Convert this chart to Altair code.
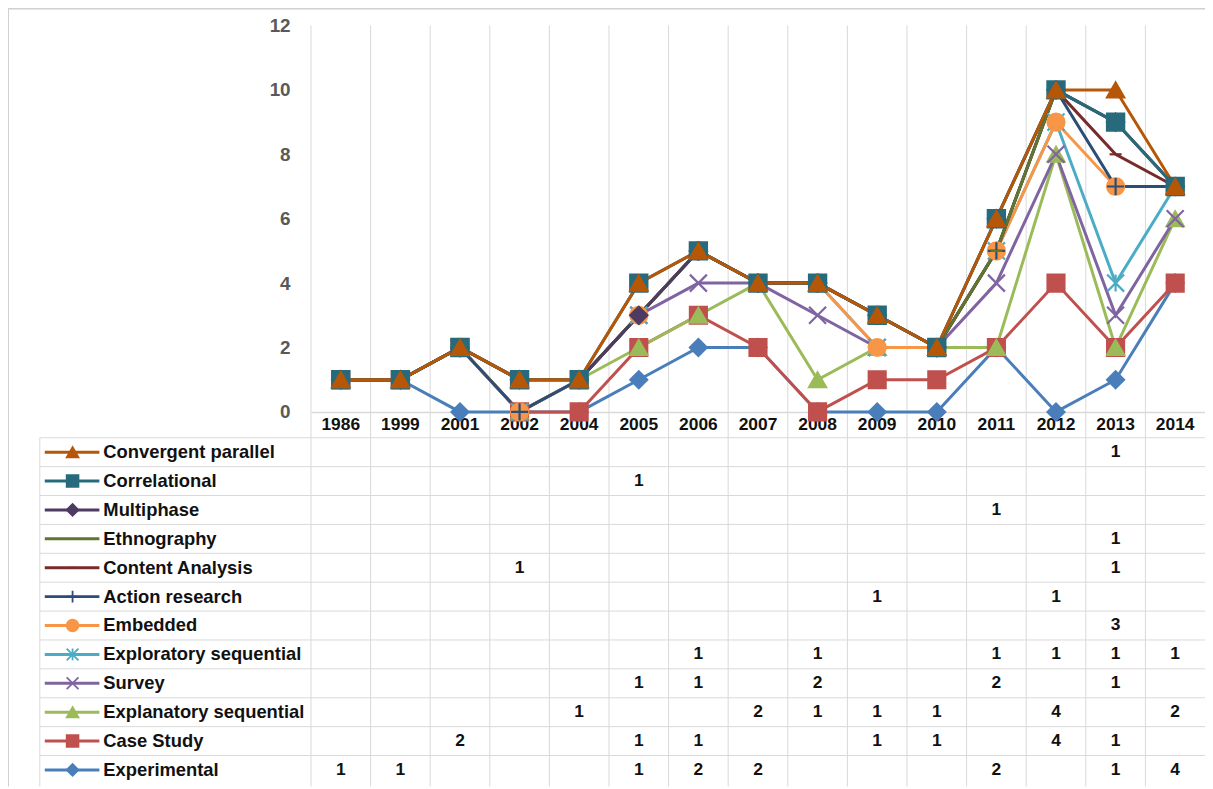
import altair as alt
import pandas as pd

years = ["1986", "1999", "2001", "2002", "2004", "2005", "2006", "2007",
         "2008", "2009", "2010", "2011", "2012", "2013", "2014"]

# table order, top to bottom
series = ["Convergent parallel", "Correlational", "Multiphase", "Ethnography",
          "Content Analysis", "Action research", "Embedded",
          "Exploratory sequential", "Survey", "Explanatory sequential",
          "Case Study", "Experimental"]

convergent_parallel    = [0, 0, 0, 0, 0, 0, 0, 0, 0, 0, 0, 0, 0, 1, 0]
correlational          = [0, 0, 0, 0, 0, 1, 0, 0, 0, 0, 0, 0, 0, 0, 0]
multiphase             = [0, 0, 0, 0, 0, 0, 0, 0, 0, 0, 0, 1, 0, 0, 0]
ethnography            = [0, 0, 0, 0, 0, 0, 0, 0, 0, 0, 0, 0, 0, 1, 0]
content_analysis       = [0, 0, 0, 1, 0, 0, 0, 0, 0, 0, 0, 0, 0, 1, 0]
action_research        = [0, 0, 0, 0, 0, 0, 0, 0, 0, 1, 0, 0, 1, 0, 0]
embedded               = [0, 0, 0, 0, 0, 0, 0, 0, 0, 0, 0, 0, 0, 3, 0]
exploratory_sequential = [0, 0, 0, 0, 0, 0, 1, 0, 1, 0, 0, 1, 1, 1, 1]
survey                 = [0, 0, 0, 0, 0, 1, 1, 0, 2, 0, 0, 2, 0, 1, 0]
explanatory_sequential = [0, 0, 0, 0, 1, 0, 0, 2, 1, 1, 1, 0, 4, 0, 2]
case_study             = [0, 0, 2, 0, 0, 1, 1, 0, 0, 1, 1, 0, 4, 1, 0]
experimental           = [1, 1, 0, 0, 0, 1, 2, 2, 0, 0, 0, 2, 0, 1, 4]

counts = dict(zip(series, [convergent_parallel, correlational, multiphase, ethnography,
                           content_analysis, action_research, embedded,
                           exploratory_sequential, survey, explanatory_sequential,
                           case_study, experimental]))

colors = ["#B65708", "#276A7C", "#4D3B62", "#5F7530", "#772C2A", "#2C4D75",
          "#F79646", "#4BACC6", "#8064A2", "#9BBB59", "#C0504D", "#4A7EBB"]
shapes = ["triangle-up", "square", "diamond", "M-0.7,0L0.7,0", "M-0.7,0L0.7,0",
          "M-1,0L1,0M0,-1L0,1", "circle", "M-1,-1L1,1M-1,1L1,-1M0,-1L0,1",
          "M-1,-1L1,1M-1,1L1,-1", "triangle-up", "square", "diamond"]
sizes = [300, 290, 200, 60, 60, 90, 290, 190, 210, 280, 290, 200]

# stacked (cumulative) values, Experimental at the bottom
stack_order = list(reversed(series))
rows = []
for yi, yr in enumerate(years):
    total = 0
    for k, s in enumerate(stack_order):
        v = counts[s][yi]
        total += v
        rows.append(dict(year=yr, series=s, count=v, cum=total, order=k))
df = pd.DataFrame(rows).sort_values(["order", "year"]).reset_index(drop=True)

FONT = "Liberation Sans"
GRID = "#D9D9D9"
W, H = 1205, 781
X0, X1 = 305, 1205          # year columns
YT, YB = 430, 779           # table rows
PT, PB = 15, 404            # plot area (12 -> PT, 0 -> PB)
TL = 32                     # table left border

def xs():
    return alt.Scale(type="band", domain=years, range=[X0, X1], paddingInner=0, paddingOuter=0)

def ys_table():
    return alt.Scale(type="band", domain=series, range=[YT, YB], paddingInner=0, paddingOuter=0)

color_scale = alt.Scale(domain=series, range=colors)
shape_scale = alt.Scale(domain=series, range=shapes)
size_scale = alt.Scale(domain=series, range=sizes)

years_df = pd.DataFrame({"year": years})
series_df = pd.DataFrame({"series": series})
one = pd.DataFrame({"a": [0]})

# outer frame (top and left edges)
frame_top = alt.Chart(one).mark_rule(color="#D0D0D0", strokeWidth=2).encode(
    x=alt.value(0), x2=alt.value(W), y=alt.value(-2))
frame_left = alt.Chart(one).mark_rule(color="#D0D0D0", strokeWidth=2).encode(
    x=alt.value(0), y=alt.value(-2), y2=alt.value(H))

# vertical grid lines (column boundaries)
vgrid = alt.Chart(years_df).mark_rule(color=GRID, strokeWidth=1).encode(
    x=alt.X("year:O", scale=xs(), bandPosition=0, axis=None),
    y=alt.value(PT), y2=alt.value(H))

# horizontal table lines
hgrid = alt.Chart(series_df).mark_rule(color=GRID, strokeWidth=1).encode(
    y=alt.Y("series:N", scale=ys_table(), bandPosition=0, axis=None),
    x=alt.value(TL), x2=alt.value(W))
left_border = alt.Chart(one).mark_rule(color=GRID, strokeWidth=1).encode(
    x=alt.value(TL), y=alt.value(YT), y2=alt.value(H))

x_enc = alt.X("year:O", scale=xs(), bandPosition=0.5,
              axis=alt.Axis(orient="bottom", offset=-(H - PB), ticks=False, domain=True,
                            domainColor=GRID, domainWidth=1.5, grid=False, title=None,
                            labelAngle=0, labelFont=FONT, labelFontSize=17.5,
                            labelFontWeight="bold", labelColor="#111111", labelPadding=4))
y_enc = alt.Y("cum:Q", scale=alt.Scale(domain=[0, 12], range=[PB, PT], nice=False),
              axis=alt.Axis(values=[0, 2, 4, 6, 8, 10, 12], offset=-290, labelPadding=6,
                            ticks=False, domain=False, grid=False, title=None,
                            labelFont=FONT, labelFontSize=19, labelFontWeight="bold",
                            labelColor="#595959"))

lines = alt.Chart(df).mark_line(strokeWidth=3).encode(
    x=x_enc, y=y_enc,
    color=alt.Color("series:N", scale=color_scale, legend=None),
    detail="series:N")

points = alt.Chart(df).mark_point(filled=True, strokeWidth=2.2, opacity=1).encode(
    x=alt.X("year:O", scale=xs(), bandPosition=0.5, axis=None),
    y=alt.Y("cum:Q", scale=alt.Scale(domain=[0, 12], range=[PB, PT], nice=False), axis=None),
    color=alt.Color("series:N", scale=color_scale, legend=None),
    stroke=alt.Stroke("series:N", scale=color_scale, legend=None),
    shape=alt.Shape("series:N", scale=shape_scale, legend=None),
    size=alt.Size("series:N", scale=size_scale, legend=None))

# legend column of the data table
leg_line = alt.Chart(series_df).mark_rule(strokeWidth=3).encode(
    y=alt.Y("series:N", scale=ys_table(), bandPosition=0.5, axis=None),
    x=alt.value(37), x2=alt.value(92),
    color=alt.Color("series:N", scale=color_scale, legend=None))
leg_point = alt.Chart(series_df).mark_point(filled=True, strokeWidth=1.8, opacity=1, size=140).encode(
    y=alt.Y("series:N", scale=ys_table(), bandPosition=0.5, axis=None),
    x=alt.value(65),
    color=alt.Color("series:N", scale=color_scale, legend=None),
    stroke=alt.Stroke("series:N", scale=color_scale, legend=None),
    shape=alt.Shape("series:N", scale=shape_scale, legend=None))
leg_text = alt.Chart(series_df).mark_text(align="left", baseline="middle", font=FONT,
                                          fontSize=18.5, fontWeight="bold", color="#111111").encode(
    y=alt.Y("series:N", scale=ys_table(), bandPosition=0.5, axis=None),
    x=alt.value(96),
    text="series:N")

# table values
cells = alt.Chart(df[df["count"] > 0]).mark_text(align="center", baseline="middle", font=FONT,
                                                 fontSize=17.5, fontWeight="bold", color="#111111").encode(
    x=alt.X("year:O", scale=xs(), bandPosition=0.5, axis=None),
    y=alt.Y("series:N", scale=ys_table(), bandPosition=0.5, axis=None),
    text="count:Q")

chart = alt.layer(
    frame_top, frame_left, vgrid, hgrid, left_border, lines, points,
    leg_line, leg_point, leg_text, cells
).resolve_scale(
    x="independent", y="independent", color="shared", shape="shared", stroke="shared"
).properties(
    width=W, height=H, padding=0, autosize=alt.AutoSizeParams(type="none"), background="white"
).configure_view(stroke=None)

chart.save("out.html", embed_options={"renderer": "svg", "actions": False})
